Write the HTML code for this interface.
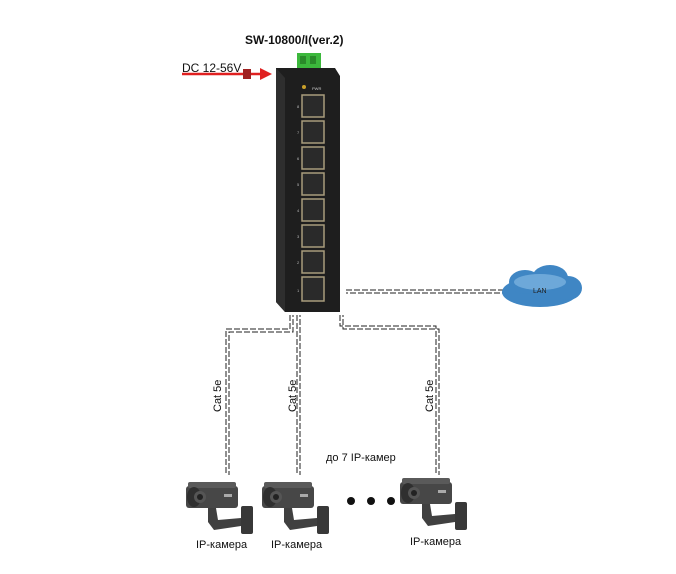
<!DOCTYPE html>
<html><head><meta charset="utf-8"><style>
body{margin:0;background:#fff;}
svg{display:block}
text{font-family:"Liberation Sans",sans-serif}
</style></head><body>
<svg width="676" height="574" viewBox="0 0 676 574">
<defs>
<g id="cam">
  <rect x="0" y="8" width="52" height="22" rx="3" fill="#474747"/>
  <rect x="2" y="4" width="48" height="6" rx="2" fill="#5a5a5a"/>
  <ellipse cx="8" cy="19" rx="7" ry="10" fill="#2f2f2f"/>
  <circle cx="14" cy="19" r="6" fill="#555"/>
  <circle cx="14" cy="19" r="3" fill="#222"/>
  <rect x="38" y="16" width="8" height="3" fill="#aaa"/>
  <path d="M22 30 L30 30 L32 42 L55 40 L55 48 L28 52 L22 44 Z" fill="#404040"/>
  <rect x="55" y="28" width="12" height="28" rx="2" fill="#383838"/>
</g>
</defs>
<rect width="676" height="574" fill="#fff"/>
<text x="245" y="44" font-size="12" font-weight="bold" fill="#111">SW-10800/I(ver.2)</text>
<text x="182" y="72" font-size="12" fill="#111">DC 12-56V</text>
<line x1="182" y1="74" x2="260" y2="74" stroke="#e02020" stroke-width="2.5"/>
<polygon points="260,68 272,74 260,80" fill="#e02020"/>
<rect x="243" y="69" width="8" height="10" fill="#a02020"/>
<rect x="297" y="53" width="24" height="18" fill="#3cb83c"/>
<rect x="300" y="56" width="6" height="8" fill="#2a8a2a"/><rect x="310" y="56" width="6" height="8" fill="#2a8a2a"/>
<polygon points="276,68 335,68 340,76 340,312 285,312 276,302" fill="#1e1e1e"/>
<polygon points="276,68 285,78 285,312 276,302" fill="#2e2e2e"/>
<circle cx="304" cy="87" r="2" fill="#c9a02a"/>
<text x="312" y="90" font-size="4" fill="#ccc">PWR</text>
<g fill="#2a2a2a" stroke="#a89c7c" stroke-width="1.5">
<rect x="302" y="95" width="22" height="22"/><rect x="302" y="121" width="22" height="22"/>
<rect x="302" y="147" width="22" height="22"/><rect x="302" y="173" width="22" height="22"/>
<rect x="302" y="199" width="22" height="22"/><rect x="302" y="225" width="22" height="22"/>
<rect x="302" y="251" width="22" height="22"/><rect x="302" y="277" width="22" height="24"/>
</g>
<g fill="#bbb" font-size="4">
<text x="297" y="108">8</text><text x="297" y="134">7</text><text x="297" y="160">6</text><text x="297" y="186">5</text>
<text x="297" y="212">4</text><text x="297" y="238">3</text><text x="297" y="264">2</text><text x="297" y="292">1</text>
</g>
<g fill="none" stroke="#222" stroke-width="1" stroke-dasharray="6 2">
<path d="M346 290 H503"/><path d="M346 293 H503" stroke-dashoffset="4"/>
<path d="M290 315 V329 H226 V475"/><path d="M293 315 V332 H229 V475" stroke-dashoffset="4"/>
<path d="M297 315 V475"/><path d="M300 315 V475" stroke-dashoffset="4"/>
<path d="M340 315 V326 H436 V475"/><path d="M343 315 V329 H439 V475" stroke-dashoffset="4"/>
</g>
<g fill="#3f86c4">
<ellipse cx="540" cy="292" rx="38" ry="15"/><ellipse cx="525" cy="282" rx="16" ry="12"/>
<ellipse cx="550" cy="278" rx="18" ry="13"/><ellipse cx="568" cy="288" rx="14" ry="12"/>
</g>
<ellipse cx="540" cy="282" rx="26" ry="8" fill="#8cc0e8" opacity="0.6"/>
<text x="533" y="293" font-size="7" fill="#222">LAN</text>
<g font-size="11" fill="#111">
<text transform="translate(221,412) rotate(-90)">Cat 5e</text>
<text transform="translate(296,412) rotate(-90)">Cat 5e</text>
<text transform="translate(433,412) rotate(-90)">Cat 5e</text>
<text x="326" y="461">до 7 IP-камер</text>
<text x="196" y="548">IP-камера</text>
<text x="271" y="548">IP-камера</text>
<text x="410" y="545">IP-камера</text>
</g>
<use href="#cam" x="186" y="478"/>
<use href="#cam" x="262" y="478"/>
<use href="#cam" x="400" y="474"/>
<circle cx="351" cy="501" r="4" fill="#111"/><circle cx="371" cy="501" r="4" fill="#111"/><circle cx="391" cy="501" r="4" fill="#111"/>
</svg>
</body></html>
